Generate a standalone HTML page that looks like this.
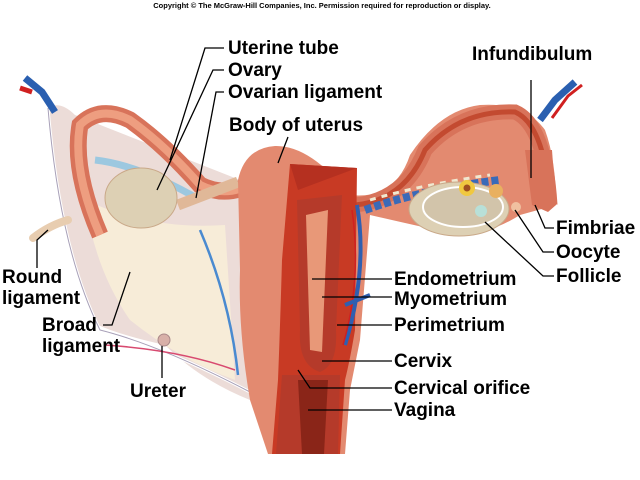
<!DOCTYPE html>
<html><head><meta charset="utf-8"><style>
html,body{margin:0;padding:0;background:#fff;}
svg{display:block}
text{font-family:"Liberation Sans",Arial,sans-serif;font-weight:bold;fill:#000}
</style></head><body>
<svg width="640" height="480" viewBox="0 0 640 480" xmlns="http://www.w3.org/2000/svg">
<text x="322" y="8" font-size="7.5" text-anchor="middle" font-weight="normal">Copyright © The McGraw-Hill Companies, Inc. Permission required for reproduction or display.</text>
<!-- broad ligament -->
<path d="M48,108 Q60,100 75,115 L240,180 L250,400 Q200,380 165,345 Q120,335 98,325 Q60,240 48,108Z" fill="#ecdcd8"/>
<path d="M85,200 Q150,230 225,225 L235,380 Q180,360 130,320 Q95,270 85,200Z" fill="#f7ecd8"/>
<path d="M48,108 Q60,250 100,330 Q160,345 250,392" fill="none" stroke="#fff" stroke-width="3"/>
<path d="M48,108 Q60,250 100,330 Q160,345 250,392" fill="none" stroke="#a8a0b8" stroke-width="1"/>
<path d="M105,345 Q180,350 235,370" stroke="#d84a70" stroke-width="1.5" fill="none"/>
<path d="M200,230 Q230,300 238,375" stroke="#4a8ad0" stroke-width="2.5" fill="none"/>
<!-- round ligament -->
<path d="M33,238 Q50,225 68,220" fill="none" stroke="#e8cdb0" stroke-width="8" stroke-linecap="round"/>
<!-- left tube -->
<path d="M100,235 Q72,170 80,125 Q100,105 130,120 Q165,145 200,185 Q240,205 280,160" fill="none" stroke="#d8735a" stroke-width="17"/>
<path d="M100,235 Q72,170 80,125 Q100,105 130,120 Q165,145 200,185 Q240,205 280,160" fill="none" stroke="#ee9e80" stroke-width="8"/>
<path d="M95,160 Q140,165 200,200" fill="none" stroke="#9cc8e0" stroke-width="7"/>
<!-- left ovary -->
<path d="M178,205 L238,182" stroke="#e0b898" stroke-width="11"/>
<ellipse cx="141" cy="198" rx="36" ry="30" fill="#ddd0b4" stroke="#c9a888"/>
<!-- uterus outer -->
<path d="M238,180 Q245,148 275,146 Q310,145 350,195 Q395,200 410,155 Q440,110 480,105 Q525,102 545,130 Q556,160 556,205 L520,215 Q480,240 445,232 Q400,222 370,215 L360,340 L350,390 L345,454 L268,454 L250,400 Q238,330 240,270Z" fill="#e38a70"/>
<!-- right tube -->
<path d="M355,205 Q405,200 425,150 Q460,110 515,112 Q545,125 550,205" fill="none" stroke="#d8735a" stroke-width="15"/>
<path d="M355,205 Q405,200 425,150 Q460,110 515,112 Q545,125 550,205" fill="none" stroke="#c34a30" stroke-width="5"/>
<path d="M365,210 Q420,190 500,180" fill="none" stroke="#3a6ab8" stroke-width="8" stroke-dasharray="7 3"/>
<path d="M370,200 Q420,185 490,175" fill="none" stroke="#f0e8d0" stroke-width="3" stroke-dasharray="6 6"/>
<!-- right ovary -->
<ellipse cx="459" cy="209" rx="50" ry="27" fill="#ddd0b4" stroke="#c9a888"/>
<ellipse cx="463" cy="207" rx="40" ry="20" fill="#d2c4aa" stroke="#fff" stroke-width="2"/>
<circle cx="467" cy="188" r="8" fill="#f0c840"/><circle cx="467" cy="188" r="3.5" fill="#a05020"/>
<circle cx="496" cy="191" r="7" fill="#e9b060"/>
<circle cx="481" cy="211" r="6" fill="#b8e0d8"/>
<circle cx="516" cy="207" r="5" fill="#f0c0a0"/>
<!-- fimbriae -->
<path d="M525,150 L532,205 L548,212 L556,205 L552,150" fill="#d8735a"/>
<!-- cut section -->
<path d="M290,164 L357,168 L355,330 Q350,360 345,380 L340,454 L272,454 L278,380 Q280,330 282,260Z" fill="#c83a24"/>
<path d="M290,164 L357,168 L298,190Z" fill="#b53020"/>
<path d="M297,200 L300,330 Q298,365 320,372 Q338,365 336,330 L342,195Z" fill="#b53a2a"/>
<path d="M306,215 L310,350 L322,352 L328,210Z" fill="#e89878"/>
<path d="M282,375 L340,375 L338,454 L276,454Z" fill="#b53a2a"/>
<path d="M298,380 L328,380 L324,454 L302,454Z" fill="#8a2518"/>
<path d="M357,205 Q368,270 345,345" fill="none" stroke="#2f5fb0" stroke-width="4"/>
<path d="M352,210 Q362,280 343,345" fill="none" stroke="#d02020" stroke-width="1.5"/>
<path d="M345,305 L370,295" stroke="#2f5fb0" stroke-width="4"/>
<!-- vessels -->
<path d="M25,78 L42,92 L55,112" stroke="#2a5fb0" stroke-width="7" fill="none"/>
<path d="M20,88 L32,92" stroke="#d02020" stroke-width="5"/>
<path d="M540,120 L555,100 L575,82" stroke="#2a5fb0" stroke-width="7" fill="none"/>
<path d="M552,118 L568,96 L582,85" stroke="#d02020" stroke-width="3" fill="none"/>
<circle cx="164" cy="340" r="6" fill="#d8b0a8" stroke="#a88"/>
<!-- leader lines -->
<g stroke="#000" stroke-width="1.3" fill="none">
<path d="M224,48 L205,48 L170,160"/>
<path d="M224,70 L213,70 L157,190"/>
<path d="M224,92 L216,92 L196,198"/>
<path d="M288,137 L278,163"/>
<path d="M531,80 L531,178"/>
<path d="M554,228 L545,228 L535,205"/>
<path d="M554,252 L543,252 L515,210"/>
<path d="M554,276 L543,276 L485,222"/>
<path d="M37,268 L37,240 L48,230"/>
<path d="M103,325 L112,325 L130,272"/>
<path d="M392,279 L312,279"/><path d="M392,297 L322,297"/>
<path d="M392,325 L337,325"/><path d="M392,361 L322,361"/>
<path d="M392,388 L310,388 L298,370"/><path d="M392,410 L308,410"/>
<path d="M162,346 L162,378"/>
</g>
<g font-size="19">
<text x="228" y="54">Uterine tube</text>
<text x="228" y="76">Ovary</text>
<text x="228" y="98">Ovarian ligament</text>
<text x="229" y="131">Body of uterus</text>
<text x="472" y="60">Infundibulum</text>
<text x="556" y="234">Fimbriae</text>
<text x="556" y="258">Oocyte</text>
<text x="556" y="282">Follicle</text>
<text x="2" y="283">Round</text>
<text x="2" y="304">ligament</text>
<text x="42" y="331">Broad</text>
<text x="42" y="352">ligament</text>
<text x="394" y="285">Endometrium</text>
<text x="394" y="305">Myometrium</text>
<text x="394" y="331">Perimetrium</text>
<text x="130" y="397">Ureter</text>
<text x="394" y="367">Cervix</text>
<text x="394" y="394">Cervical orifice</text>
<text x="394" y="416">Vagina</text>
</g>
</svg>
</body></html>
